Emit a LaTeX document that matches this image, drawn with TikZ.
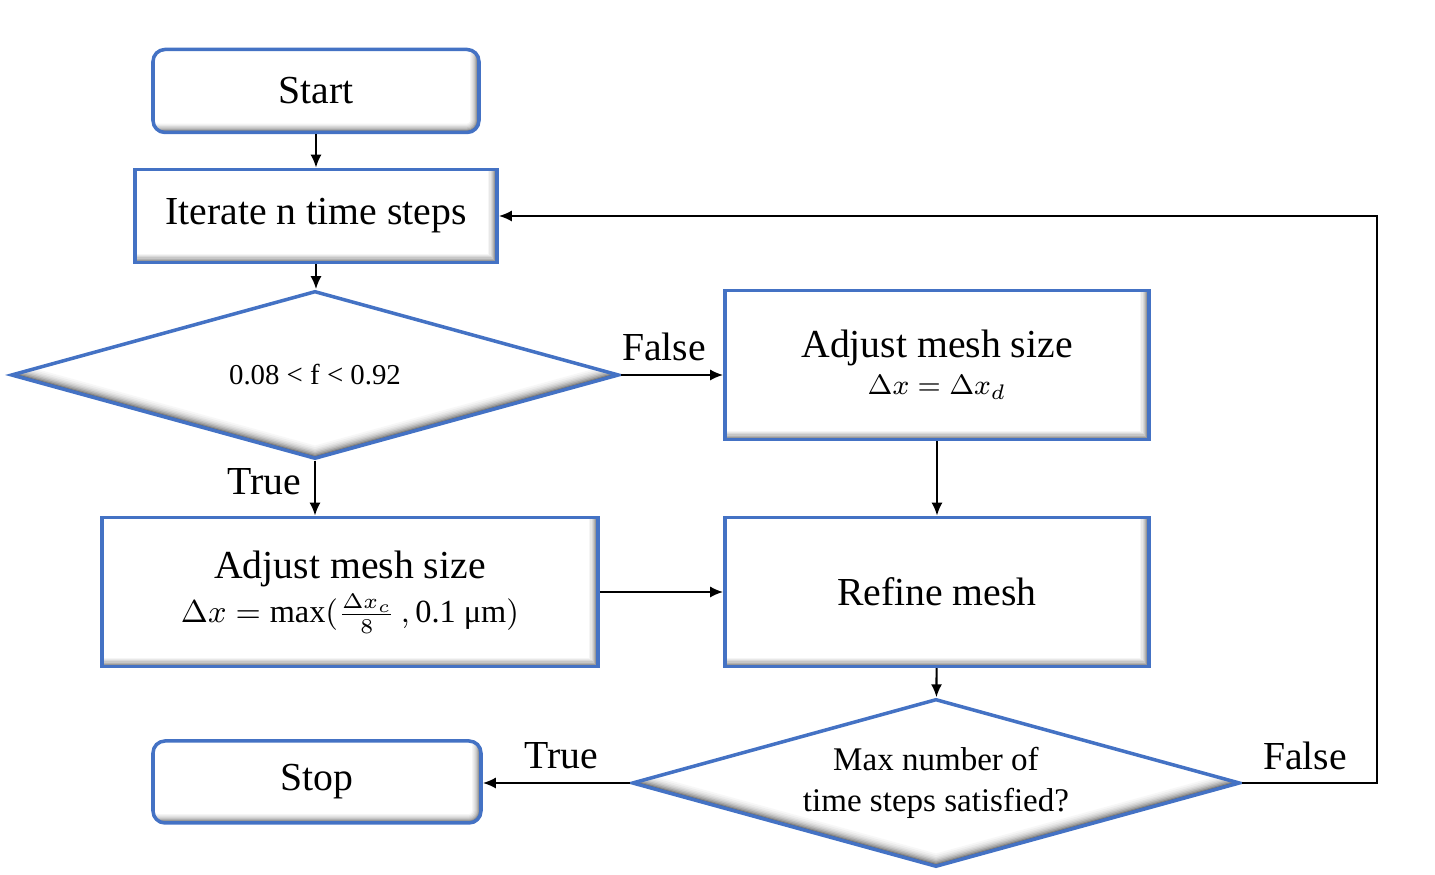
\documentclass[tikz,border=0pt]{standalone}
\usepackage{fontspec}
\setmainfont{Liberation Serif}
\usetikzlibrary{shapes.geometric,arrows.meta}
\definecolor{bblue}{RGB}{68,114,196}
\newcommand{\fmain}{\fontsize{11.3}{13.5}\selectfont}
\begin{document}
\begin{tikzpicture}[x=0.1mm,y=-0.1mm,
  shadebox/.style={path picture={
    \foreach \w/\c in {5/4,4.3/9,3.6/15,2.9/22,2.2/30,1.6/40,1/52}{
      \draw[line width=\w pt,black!\c] (path picture bounding box.south west) -- (path picture bounding box.south east) -- (path picture bounding box.north east);
    }}},
  shadediam/.style={path picture={
    \foreach \w/\c in {7/3,6/7,5/12,4.2/18,3.4/26,2.6/35,1.8/46,1.1/60}{
      \draw[line width=\w pt,black!\c,line join=miter] (path picture bounding box.west) -- (path picture bounding box.south) -- (path picture bounding box.east);
    }}},
  boxbase/.style={draw=bblue, line width=1pt, fill=white, inner sep=0pt, align=center, font=\fmain},
  rectbox/.style={boxbase, rectangle, shadebox, minimum width=#1},
  roundbox/.style={boxbase, rectangle, rounded corners=1.2mm, shadebox, minimum width=#1},
  decision/.style={boxbase, diamond, aspect=3.6, shadediam, minimum width=60.8mm, minimum height=16.8mm},
  arr/.style={-{Latex[length=1.3mm,width=1.1mm]}, line width=0.6pt},
  lbl/.style={font=\fmain, inner sep=0pt}
]
\useasboundingbox (0,0) rectangle (1435,875);

\node[roundbox=32.6mm, minimum height=8.3mm] (start) at (316,91) {Start};
\node[rectbox=36.2mm, minimum height=9.3mm] (iter) at (316,216) {Iterate n time steps};
\node[decision, font=\fontsize{8.2}{10}\selectfont] (d1) at (315,375) {0.08 {\textless} f {\textless} 0.92};
\node[rectbox=42.4mm, minimum height=14.9mm] (a1) at (937,365) {Adjust mesh size\\[-3pt] {\fontsize{8.5}{10}\selectfont $\Delta x = \Delta x_d$}};
\node[rectbox=49.6mm, minimum height=14.9mm] (a2) at (350,592) {Adjust mesh size\\[-1pt] {\fontsize{9.2}{11}\selectfont $\Delta x = \mbox{max}(\frac{\Delta x_c}{8}\,, \mbox{0.1 μm})$}};
\node[rectbox=42.4mm, minimum height=14.9mm] (ref) at (937,592) {Refine mesh};
\node[decision, font=\fontsize{9.4}{11.6}\selectfont] (d2) at (936,783) {Max number of\\time steps satisfied?};
\node[roundbox=32.8mm, minimum height=8.2mm] (stop) at (317,782) {Stop};

\coordinate (c1) at (1377,783);
\coordinate (c2) at (1377,216);

\draw[arr] (start) -- (iter);
\draw[arr] (iter.south) -- (iter.south |- d1.north);
\draw[arr] (d1.east) -- (a1.west |- d1.east);
\draw[arr] (d1.south) -- (d1.south |- a2.north);
\draw[arr] (a1) -- (ref);
\draw[arr] (a2.east) -- (ref.west);
\draw[arr] (ref) -- (d2);
\draw[arr] (d2.west) -- (stop.east |- d2.west);
\draw[arr] (d2.east) -- (c1) -- (c2) -- (iter.east);

\node[lbl] (lf1) at (664,347) {False};
\node[lbl] (lt1) at (264,482) {True};
\node[lbl] (lt2) at (561,756) {True};
\node[lbl] (lf2) at (1305,756) {False};
\end{tikzpicture}
\end{document}
